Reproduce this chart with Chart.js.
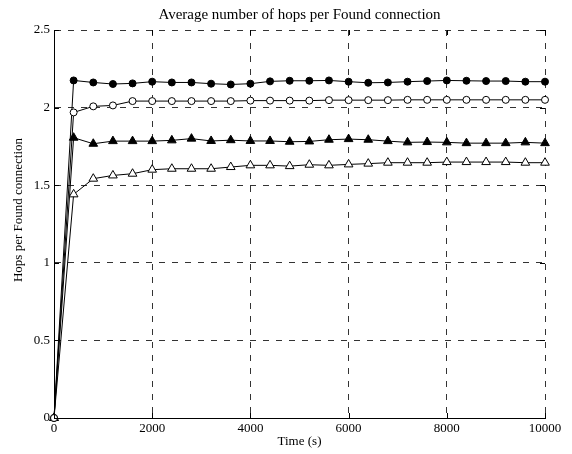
<!DOCTYPE html>
<html>
<head>
<meta charset="utf-8">
<script src="https://cdn.jsdelivr.net/npm/chart.js@4.4.1/dist/chart.umd.min.js"></script>
<style>
  html,body{margin:0;padding:0;background:#fff;}
</style>
</head>
<body>
<canvas id="hops" width="572" height="454"></canvas>
<script>
// ==================== Data ====================
const times = [0,400,800,1200,1600,2000,2400,2800,3200,3600,4000,4400,4800,5200,
               5600,6000,6400,6800,7200,7600,8000,8400,8800,9200,9600,10000];

const filledCircle = [0,2.175,2.162,2.152,2.156,2.167,2.162,2.162,2.154,2.149,2.154,2.169,2.173,
                      2.173,2.175,2.167,2.160,2.162,2.167,2.171,2.175,2.173,2.171,2.171,2.167,2.167];
const openCircle   = [0,1.969,2.008,2.014,2.042,2.042,2.042,2.042,2.042,2.042,2.045,2.045,2.045,
                      2.045,2.048,2.048,2.048,2.048,2.050,2.050,2.050,2.050,2.050,2.050,2.050,2.050];
const filledTri    = [0,1.806,1.767,1.784,1.784,1.784,1.789,1.800,1.785,1.790,1.785,1.785,1.780,
                      1.782,1.793,1.797,1.793,1.784,1.776,1.778,1.776,1.771,1.771,1.771,1.776,1.771];
const openTri      = [0,1.441,1.542,1.563,1.574,1.600,1.606,1.606,1.606,1.617,1.628,1.628,1.623,
                      1.632,1.628,1.634,1.639,1.645,1.645,1.645,1.649,1.649,1.649,1.649,1.645,1.645];

const xTicks = [0,2000,4000,6000,8000,10000];
const yTicks = [0,0.5,1,1.5,2,2.5];

// ==================== Helpers ====================
const serif = "'Liberation Serif','Times New Roman',serif";
const pts = arr => arr.map((v,i)=>({x:times[i], y:v}));

function series(label,data,style,fill,radius){
  return {
    label, data:pts(data),
    borderColor:'#000', borderWidth:1,
    pointStyle:style, pointRadius:radius,
    pointBackgroundColor:fill, pointBorderColor:'#000', pointBorderWidth:1,
    tension:0, clip:false
  };
}

// little inward tick marks on all four sides (matlab style)
const innerTicks = {
  id:'innerTicks',
  afterDatasetsDraw(chart){
    const {ctx, chartArea:a, scales:{x,y}} = chart;
    ctx.save();
    ctx.strokeStyle='#000'; ctx.lineWidth=1;
    ctx.beginPath();
    x.ticks.forEach(t=>{
      const px=Math.round(x.getPixelForValue(t.value))+0.5;
      ctx.moveTo(px,a.bottom); ctx.lineTo(px,a.bottom-5);
      ctx.moveTo(px,a.top);    ctx.lineTo(px,a.top+5);
    });
    y.ticks.forEach(t=>{
      const py=Math.round(y.getPixelForValue(t.value))+0.5;
      ctx.moveTo(a.left,py);  ctx.lineTo(a.left+5,py);
      ctx.moveTo(a.right,py); ctx.lineTo(a.right-5,py);
    });
    ctx.stroke();
    ctx.restore();
  }
};

// y label sits a bit above the axis middle in the original, draw it by hand
const yLabel = {
  id:'yLabel',
  afterDraw(chart){
    const ctx=chart.ctx;
    ctx.save();
    ctx.translate(19,210);
    ctx.rotate(-Math.PI/2);
    ctx.fillStyle='#000';
    ctx.font="13px "+serif;
    ctx.textAlign='center';
    ctx.textBaseline='middle';
    ctx.fillText('Hops per Found connection',0,0);
    ctx.restore();
  }
};

// ==================== Chart ====================
new Chart(document.getElementById('hops'),{
  type:'line',
  data:{
    datasets:[
      series('open circle',  openCircle,  'circle',  '#fff',3.5),
      series('filled circle',filledCircle,'circle',  '#000',3.5),
      series('open tri',     openTri,     'triangle','#fff',5),
      series('filled tri',   filledTri,   'triangle','#000',5)
    ]
  },
  options:{
    responsive:false,
    animation:false,
    devicePixelRatio:1,
    layout:{padding:{left:0,right:27,top:0,bottom:0}},
    plugins:{
      legend:{display:false},
      tooltip:{enabled:false},
      title:{
        display:true,
        text:'Average number of hops per Found connection',
        color:'#000',
        fullSize:false,
        font:{family:serif,size:15,weight:'normal'},
        padding:{top:6,bottom:6}
      }
    },
    scales:{
      x:{
        type:'linear', min:0, max:10000,
        afterFit:s=>{ s.height=36; },
        afterBuildTicks:s=>{ s.ticks=xTicks.map(v=>({value:v})); },
        grid:{color:'#333', drawTicks:false},
        border:{display:true,color:'#000',width:1,dash:[6,7]},
        ticks:{color:'#000',padding:3,font:{family:serif,size:13},callback:v=>String(v)},
        title:{display:true,text:'Time (s)',color:'#000',font:{family:serif,size:13},padding:{top:0,bottom:5}}
      },
      y:{
        type:'linear', min:0, max:2.5,
        afterFit:s=>{ s.width=54; },
        afterBuildTicks:s=>{ s.ticks=yTicks.map(v=>({value:v})); },
        grid:{color:'#333', drawTicks:false},
        border:{display:true,color:'#000',width:1,dash:[6,7]},
        ticks:{color:'#000',padding:4,font:{family:serif,size:13},callback:v=>String(v)}
      }
    }
  },
  plugins:[innerTicks,yLabel]
});
</script>
</body>
</html>
